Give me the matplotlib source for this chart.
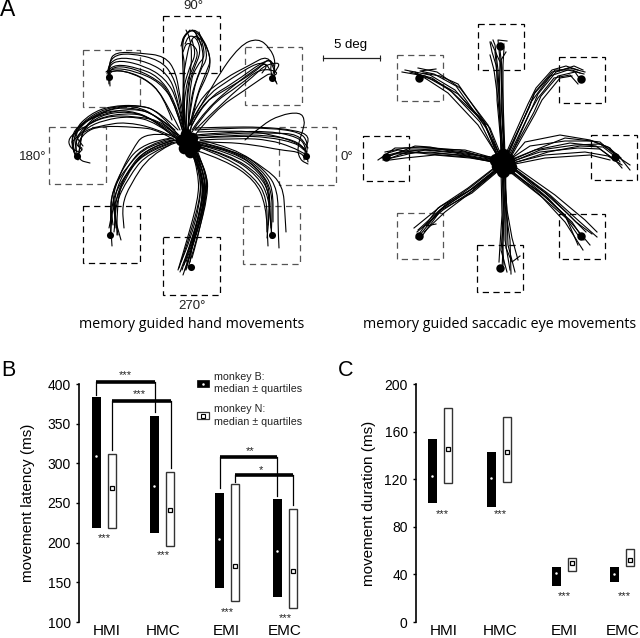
import matplotlib
matplotlib.use('Agg')
import matplotlib.pyplot as plt
from matplotlib.path import Path
from matplotlib.patches import PathPatch, Rectangle

plt.rcParams['font.family'] = ['Liberation Sans', 'DejaVu Sans']

W, H = 640, 638
GREY = '#555555'

# panel A, everything in pixels
hand_boxes = [(163, 16, 220, 73), (245, 47, 302, 105), (83, 50, 140, 107), (49, 127, 106, 184),
              (279, 127, 336, 185), (83, 206, 140, 263), (243, 206, 300, 264), (163, 237, 220, 295)]
hand_box_colors = ['k', GREY, GREY, GREY, GREY, 'k', GREY, 'k']
eye_boxes = [(478, 24, 524, 70), (559, 57, 605, 103), (397, 55, 443, 101), (363, 136, 409, 181),
             (591, 135, 637, 180), (397, 213, 443, 259), (559, 214, 605, 259), (477, 245, 523, 292)]
eye_box_colors = ['k', 'k', GREY, 'k', 'k', GREY, 'k', 'k']
hand_targets = [(272, 78), (109, 77), (77, 156), (306, 156), (110, 235), (272, 235), (191, 267)]
eye_targets = [(500, 46), (581, 79), (419, 78), (386, 157), (615, 157), (419, 236), (581, 236), (500, 268)]
hand_center = [(188, 143), (184, 148), (192, 138), (186, 134), (190, 152), (181, 140), (195, 146)]
eye_center = [(503, 163), (498, 166), (508, 160), (503, 171), (503, 155), (510, 167), (496, 160)]

hand_090 = [
    [(186, 140), (184, 100), (183, 70), (182, 45), (186, 32), (195, 30), (198, 40)],
    [(189, 140), (195, 100), (205, 80), (211, 65), (208, 48), (200, 35), (192, 30)],
    [(188, 130), (190, 100), (198, 75), (204, 60), (201, 42), (195, 32)],
    [(186, 130), (186, 100), (190, 75), (192, 55), (190, 38), (186, 30)],
    [(185, 125), (183, 95), (185, 65), (182, 50), (182, 38), (190, 30)],
    [(190, 125), (195, 100), (207, 70), (211, 60), (205, 42), (196, 36)],
    [(184, 130), (181, 100), (188, 70), (196, 55), (192, 40)],
    [(187, 135), (192, 95), (200, 70), (208, 58), (203, 38), (194, 28), (184, 36), (181, 46)],
    [(183, 120), (185, 85), (194, 66), (199, 50), (187, 41), (183, 52)],
    [(186, 135), (187, 90), (194, 68), (201, 52), (197, 38), (189, 35), (185, 44)],
    [(188, 135), (189, 85), (197, 65), (206, 56), (199, 32)],
    [(184, 135), (182, 85), (186, 60), (190, 42), (196, 34), (202, 46)],
]
hand_045 = [
    [(190, 125), (215, 80), (240, 45), (258, 38), (270, 48), (276, 62), (272, 78)],
    [(192, 130), (205, 110), (240, 80), (262, 65), (270, 58), (276, 70), (272, 80)],
    [(195, 130), (225, 100), (255, 75), (265, 65), (281, 62), (275, 72)],
    [(192, 125), (205, 100), (235, 82), (262, 62), (272, 60), (270, 72), (276, 82)],
    [(190, 130), (200, 105), (225, 90), (255, 72), (265, 62), (270, 70)],
    [(188, 128), (197, 100), (225, 78), (250, 65), (268, 55), (275, 72)],
    [(195, 135), (215, 110), (245, 90), (262, 78), (272, 72), (277, 84)],
    [(192, 132), (210, 105), (240, 85), (260, 68), (280, 72), (270, 78)],
    [(189, 126), (203, 98), (232, 78), (258, 62), (268, 65), (262, 73)],
]
hand_135 = [
    [(186, 140), (180, 100), (173, 75), (160, 60), (130, 53), (112, 56), (108, 70), (109, 80)],
    [(186, 140), (178, 100), (165, 78), (145, 66), (120, 60), (109, 65), (109, 78)],
    [(185, 140), (176, 105), (160, 82), (135, 71), (115, 68), (108, 72), (109, 84)],
    [(184, 135), (172, 92), (150, 75), (125, 66), (110, 68), (107, 80)],
    [(180, 130), (170, 110), (155, 85), (130, 72), (112, 70), (109, 76)],
    [(188, 140), (180, 98), (176, 72), (165, 56), (140, 53), (115, 52), (109, 62), (110, 86)],
    [(172, 120), (163, 95), (145, 78), (122, 70), (108, 72)],
    [(185, 132), (177, 96), (168, 74), (148, 62), (122, 57), (110, 62), (107, 74)],
    [(183, 128), (174, 98), (158, 76), (138, 68), (116, 64), (106, 72)],
]
hand_180 = [
    [(180, 140), (160, 118), (135, 105), (105, 108), (82, 122), (70, 140), (76, 158)],
    [(180, 142), (155, 120), (130, 110), (100, 112), (78, 128), (72, 145), (78, 160)],
    [(178, 138), (150, 116), (125, 113), (98, 118), (78, 132), (75, 150), (80, 158)],
    [(182, 140), (165, 122), (135, 116), (105, 116), (82, 128), (68, 138), (70, 148), (79, 152)],
    [(176, 138), (155, 128), (125, 122), (105, 125), (85, 130), (74, 142), (82, 150)],
    [(182, 145), (160, 130), (135, 127), (100, 126), (85, 132), (76, 146), (84, 148), (76, 156)],
    [(178, 135), (160, 112), (140, 105), (110, 106), (90, 114), (74, 130), (76, 150)],
    [(175, 130), (155, 114), (130, 107), (105, 110), (84, 126), (80, 145), (78, 160), (90, 163)],
    [(180, 136), (158, 115), (132, 108), (102, 114), (80, 124), (71, 136), (74, 152)],
    [(176, 134), (152, 118), (128, 111), (100, 115), (82, 130), (79, 152)],
    [(179, 140), (156, 122), (130, 116), (104, 120), (86, 128), (72, 142)],
    [(178, 130), (158, 110), (136, 105), (108, 109), (86, 120), (74, 134), (83, 146)],
]
hand_000 = [
    [(195, 130), (230, 128), (270, 128), (300, 132), (308, 142), (306, 158)],
    [(195, 135), (230, 132), (270, 131), (298, 137), (306, 146), (304, 160)],
    [(194, 138), (235, 135), (265, 135), (295, 140), (306, 150), (308, 162)],
    [(198, 132), (240, 130), (275, 135), (300, 144), (307, 152)],
    [(200, 140), (240, 138), (270, 140), (292, 147), (305, 154)],
    [(195, 128), (225, 127), (262, 127), (295, 130), (310, 136), (305, 150)],
    [(245, 140), (262, 125), (280, 115), (300, 112), (305, 120), (303, 130), (297, 148), (300, 160), (308, 164)],
    [(196, 142), (225, 142), (255, 145), (280, 150), (300, 152), (305, 158)],
    [(197, 136), (236, 133), (272, 133), (298, 134), (308, 148)],
    [(198, 138), (238, 136), (268, 137), (296, 143), (304, 150)],
]
hand_225 = [
    [(175, 140), (145, 148), (125, 175), (112, 200), (112, 220), (110, 235)],
    [(172, 138), (142, 142), (120, 172), (110, 200), (113, 225)],
    [(178, 142), (148, 152), (128, 178), (115, 205), (116, 228)],
    [(170, 135), (145, 132), (132, 150), (118, 178), (112, 200), (118, 235)],
    [(175, 142), (150, 150), (130, 168), (118, 190), (114, 215), (121, 240)],
    [(172, 140), (148, 145), (128, 165), (112, 190), (110, 215), (112, 246)],
    [(170, 145), (150, 155), (130, 185), (122, 205), (124, 228)],
    [(174, 138), (146, 144), (126, 168), (114, 195), (115, 222), (114, 232)],
    [(176, 140), (150, 146), (132, 166), (120, 186), (117, 212), (117, 235)],
    [(173, 142), (144, 150), (124, 180), (113, 208), (109, 228)],
]
hand_315 = [
    [(195, 145), (230, 155), (260, 175), (270, 195), (270, 220), (272, 235)],
    [(197, 142), (232, 150), (258, 168), (271, 190), (268, 225)],
    [(198, 147), (228, 158), (255, 178), (267, 198), (267, 232)],
    [(200, 140), (235, 148), (265, 170), (278, 190), (278, 225), (279, 248)],
    [(195, 150), (225, 160), (255, 180), (266, 205), (268, 246)],
    [(198, 145), (235, 150), (265, 168), (283, 185), (285, 215), (286, 232)],
    [(200, 144), (235, 152), (262, 172), (272, 192), (272, 218), (271, 238)],
    [(196, 144), (232, 153), (260, 172), (269, 192), (269, 218), (267, 238)],
    [(199, 142), (236, 150), (263, 171), (273, 188), (273, 222)],
    [(197, 146), (230, 156), (258, 176), (269, 198), (271, 228)],
]
hand_270 = [
    [(193, 150), (204, 170), (205, 195), (196, 235), (185, 270)],
    [(195, 150), (207, 172), (208, 195), (198, 235), (188, 268)],
    [(192, 152), (202, 172), (203, 198), (192, 240), (180, 272)],
    [(196, 152), (205, 175), (206, 200), (195, 240), (183, 275)],
    [(190, 150), (200, 170), (201, 195), (190, 235), (179, 268)],
    [(194, 148), (206, 168), (207, 192), (194, 238), (186, 262)],
    [(193, 155), (203, 175), (204, 198), (194, 232), (190, 262)],
    [(197, 150), (208, 178), (205, 205), (197, 240), (192, 258)],
    [(195, 155), (204, 180), (202, 205), (191, 245), (184, 265)],
    [(194, 152), (201, 178), (200, 204), (190, 240), (181, 262)],
    [(196, 150), (206, 180), (204, 208), (193, 242), (187, 266)],
    [(192, 150), (199, 175), (198, 200), (187, 240), (178, 270)],
    [(195, 150), (203, 180), (201, 210), (189, 248), (182, 270)],
    [(197, 155), (205, 185), (203, 212), (192, 246), (186, 270)],
]

eye_090 = [
    [(503, 160), (500, 110), (498, 70), (495, 45), (493, 40)],
    [(505, 160), (502, 110), (501, 70), (498, 40), (507, 41)],
    [(501, 160), (500, 105), (496, 65), (492, 52), (490, 42)],
    [(504, 160), (503, 105), (503, 65), (504, 48)],
    [(502, 160), (499, 105), (500, 62), (491, 42)],
    [(503, 150), (498, 100), (494, 70), (490, 55)],
    [(504, 155), (501, 100), (502, 68), (500, 50), (504, 44)],
    [(502, 155), (497, 100), (497, 72), (495, 52)],
    [(505, 155), (503, 100), (501, 60), (506, 52)],
]
eye_045 = [
    [(505, 160), (530, 105), (535, 92), (552, 72), (570, 68), (585, 72)],
    [(506, 162), (532, 108), (538, 94), (556, 72), (574, 66), (583, 70)],
    [(508, 160), (534, 112), (541, 96), (558, 76), (575, 72), (582, 82)],
    [(504, 158), (528, 104), (536, 88), (552, 70), (566, 66), (578, 70)],
    [(507, 164), (535, 114), (542, 100), (560, 78), (572, 76)],
    [(505, 158), (529, 108), (534, 94), (550, 76), (568, 70), (584, 74)],
    [(506, 160), (531, 102), (540, 90), (555, 70), (572, 70), (580, 73)],
    [(508, 162), (530, 112), (538, 98), (554, 78), (570, 75), (578, 84)],
]
eye_135 = [
    [(500, 160), (485, 125), (455, 90), (430, 75), (405, 70)],
    [(498, 158), (480, 122), (450, 90), (425, 76), (402, 72)],
    [(502, 162), (488, 125), (460, 88), (437, 72), (418, 68)],
    [(497, 155), (478, 125), (448, 93), (428, 80), (415, 72)],
    [(500, 156), (483, 120), (458, 84), (440, 76), (423, 73)],
    [(503, 160), (490, 128), (458, 94), (434, 80), (418, 75)],
    [(499, 160), (484, 122), (452, 92), (432, 78), (410, 72)],
    [(501, 158), (486, 128), (456, 86), (434, 74), (420, 71), (436, 69)],
]
eye_180 = [
    [(495, 160), (465, 152), (430, 148), (395, 148), (378, 160)],
    [(495, 162), (465, 156), (430, 152), (395, 154), (382, 158)],
    [(495, 160), (460, 150), (420, 147), (405, 148), (385, 152)],
    [(497, 158), (465, 154), (430, 147), (415, 146), (390, 156)],
    [(495, 162), (470, 158), (435, 155), (405, 158), (390, 160)],
    [(495, 158), (465, 153), (430, 150), (410, 150), (397, 153)],
    [(490, 157), (465, 150), (430, 149), (410, 151), (385, 160)],
    [(495, 161), (462, 155), (432, 153), (400, 152), (384, 156)],
    [(497, 163), (468, 157), (428, 154), (398, 150), (388, 153)],
    [(494, 160), (455, 153), (425, 150), (400, 156), (383, 160)],
]
eye_000 = [
    [(510, 160), (540, 148), (565, 138), (600, 142), (615, 155), (630, 165)],
    [(512, 162), (540, 150), (575, 145), (600, 144), (618, 155), (630, 170)],
    [(510, 160), (525, 142), (560, 135), (590, 140), (610, 148), (620, 162)],
    [(512, 163), (545, 155), (585, 152), (608, 156), (622, 165)],
    [(510, 165), (545, 158), (590, 155), (610, 160)],
    [(510, 161), (535, 150), (570, 143), (596, 146), (612, 158)],
    [(512, 158), (530, 146), (565, 141), (592, 141), (608, 147), (621, 158)],
    [(513, 161), (540, 152), (578, 148), (600, 149), (615, 160), (622, 168)],
    [(514, 163), (548, 152), (580, 146), (603, 147), (617, 158)],
]
eye_225 = [
    [(495, 170), (470, 190), (440, 210), (420, 235)],
    [(497, 170), (472, 191), (443, 210), (417, 232)],
    [(494, 168), (468, 188), (438, 208), (416, 238)],
    [(496, 172), (470, 193), (445, 212), (424, 232)],
    [(498, 169), (474, 188), (441, 206), (414, 228)],
    [(493, 172), (469, 191), (442, 208), (418, 230)],
    [(495, 168), (471, 187), (444, 206), (422, 236)],
    [(497, 172), (472, 193), (439, 211), (426, 226), (436, 224)],
]
eye_315 = [
    [(510, 165), (550, 195), (580, 222), (597, 237)],
    [(508, 168), (545, 197), (572, 222), (584, 240)],
    [(510, 170), (540, 195), (565, 222), (583, 250)],
    [(511, 164), (555, 195), (585, 220), (597, 232)],
    [(512, 168), (548, 198), (574, 226), (590, 245)],
    [(508, 170), (540, 192), (565, 215), (578, 245)],
    [(511, 166), (552, 198), (576, 222), (592, 234)],
    [(509, 166), (544, 192), (568, 214), (586, 232)],
    [(510, 172), (543, 198), (566, 218), (580, 238)],
]
eye_270 = [
    [(503, 170), (505, 210), (505, 240), (510, 270)],
    [(505, 170), (507, 215), (508, 245), (515, 272)],
    [(501, 170), (502, 215), (500, 245), (499, 262)],
    [(506, 170), (505, 205), (510, 240), (511, 274)],
    [(502, 172), (504, 215), (503, 248), (502, 270)],
    [(504, 168), (507, 210), (512, 238), (518, 260)],
    [(503, 170), (503, 210), (502, 240), (504, 265)],
    [(505, 172), (506, 212), (506, 248), (512, 262), (520, 256)],
    [(504, 172), (504, 218), (501, 250), (507, 272)],
]

hand_traces = hand_090 + hand_045 + hand_135 + hand_180 + hand_000 + hand_225 + hand_315 + hand_270
eye_traces = eye_090 + eye_045 + eye_135 + eye_180 + eye_000 + eye_225 + eye_315 + eye_270

# panels B and C
categories = ['HMI', 'HMC', 'EMI', 'EMC']
lat_b_top = [384, 360, 263, 255]
lat_b_bot = [218, 212, 143, 131]
lat_b_med = [309, 271, 204, 189]
lat_n_top = [312, 289, 274, 242]
lat_n_bot = [219, 196, 126, 118]
lat_n_med = [269, 241, 171, 164]
dur_b_top = [154, 143, 46, 46]
dur_b_bot = [100, 97, 30, 34]
dur_b_med = [123, 121, 41, 40]
dur_n_top = [180, 172, 54, 61]
dur_n_bot = [117, 118, 43, 47]
dur_n_med = [145, 143, 50, 52]

lat_ticks = [100, 150, 200, 250, 300, 350, 400]
dur_ticks = [0, 40, 80, 120, 160, 200]


def px_axes(x0, x1, y_top, y_bot):
    return plt.gcf().add_axes([x0 / W, 1 - y_bot / H, (x1 - x0) / W, (y_bot - y_top) / H])


def curve(ax, pts, lw=0.8):
    verts = [pts[0]]
    codes = [Path.MOVETO]
    for i in range(1, len(pts) - 1):
        verts += [pts[i], ((pts[i][0] + pts[i + 1][0]) / 2, (pts[i][1] + pts[i + 1][1]) / 2)]
        codes += [Path.CURVE3, Path.CURVE3]
    verts.append(pts[-1])
    codes.append(Path.LINETO)
    ax.add_patch(PathPatch(Path(verts, codes), fc='none', ec='k', lw=lw, capstyle='round'))


def range_bars(ax, xs, b_top, b_bot, b_med, n_top, n_bot, n_med):
    for x, t, b, m in zip(xs, b_top, b_bot, b_med):
        ax.bar(x, t - b, bottom=b, width=9, color='k', clip_on=False)
        ax.plot(x, m, 'o', ms=1.8, color='w', mew=0)
    for x, t, b, m in zip(xs, n_top, n_bot, n_med):
        ax.bar(x + 16, t - b, bottom=b, width=8, fc='w', ec='#333333', lw=1, clip_on=False)
        ax.plot(x + 16, m, 's', ms=3, mfc='w', mec='k', mew=0.9)


def bracket(ax, x0, x1, y, left_end, right_end):
    ax.plot([x0, x0], [y, left_end], color='k', lw=0.9, clip_on=False)
    ax.plot([x1, x1], [y, right_end], color='k', lw=0.9, clip_on=False)
    ax.plot([x0, x1], [y, y], color='k', lw=2.6, clip_on=False, solid_capstyle='butt')


def stars(ax, x, y, s):
    ax.text(x, y, s, ha='center', va='center', fontsize=8, color='#222222')


def style(ax, xlim, ylim, ticks, ylabel, label_x, ylabel_x):
    ax.set_xlim(*xlim)
    ax.set_ylim(*ylim)
    ax.set_yticks(ticks)
    ax.set_xticks(label_x)
    ax.set_xticklabels(categories, fontsize=11)
    ax.tick_params(axis='x', length=0, pad=1.5)
    ax.tick_params(axis='y', length=2, width=1, pad=4, labelsize=10)
    for s in ['top', 'right', 'bottom']:
        ax.spines[s].set_visible(False)
    ax.spines['left'].set_linewidth(1.2)
    ax.patch.set_alpha(0)
    ax.set_ylabel(ylabel, fontsize=11)
    ax.yaxis.set_label_coords(ylabel_x, 0.5)


fig = plt.figure(figsize=(W / 100, H / 100), dpi=100)

# panel A
top = fig.add_axes([0, 0, 1, 1])
top.set_xlim(0, W)
top.set_ylim(H, 0)
top.axis('off')

for boxes, colors in [(hand_boxes, hand_box_colors), (eye_boxes, eye_box_colors)]:
    for (x0, y0, x1, y1), c in zip(boxes, colors):
        top.add_patch(Rectangle((x0, y0), x1 - x0, y1 - y0, fc='none', ec=c, lw=0.9, ls=(0, (5, 3.5))))

for t in hand_traces:
    curve(top, t)
for t in eye_traces:
    top.plot(*zip(*t), color='k', lw=0.8)

top.scatter(*zip(*hand_targets), s=26, color='k', lw=0)
top.scatter(*zip(*eye_targets), s=37, color='k', lw=0)
top.scatter(*zip(*hand_center), s=70, color='k', lw=0)
top.scatter(*zip(*eye_center), s=95, color='k', lw=0)

top.plot([323, 380], [58, 58], color='#222222', lw=0.9, marker='|', ms=4, mew=0.8)
top.text(351, 45, '5 deg', ha='center', va='center', fontsize=9.5)
top.text(193, 6, '90°', ha='center', va='center', fontsize=9.5, color='#222222')
top.text(192, 306, '270°', ha='center', va='center', fontsize=9.5, color='#222222')
top.text(33, 157, '180°', ha='center', va='center', fontsize=9.5, color='#222222')
top.text(347, 157, '0°', ha='center', va='center', fontsize=9.5, color='#222222')
top.text(192, 324, 'memory guided hand movements', ha='center', va='center', fontsize=10.3, family='Open Sans')
top.text(500, 324, 'memory guided saccadic eye movements', ha='center', va='center', fontsize=10.3, family='Open Sans')
top.text(0, 10, 'A', ha='left', va='center', fontsize=16.5)
top.text(1, 370, 'B', ha='left', va='center', fontsize=15.5)
top.text(338, 371, 'C', ha='left', va='center', fontsize=15.5)

# panel B
ax = px_axes(79, 330, 384, 622)
xs = [96, 154, 219, 277]
range_bars(ax, xs, lat_b_top, lat_b_bot, lat_b_med, lat_n_top, lat_n_bot, lat_n_med)
style(ax, (79, 330), (100, 400), lat_ticks, 'movement latency (ms)', [107, 163, 226, 285], -0.177)
bracket(ax, 96, 155, 402.5, 386, 365)
bracket(ax, 112, 171, 379, 317, 294)
bracket(ax, 219.5, 277, 308, 269, 259)
bracket(ax, 235, 293, 285, 276, 247)
for x, y, s in [(125, 411, '***'), (139, 387, '***'), (250, 316, '**'), (261, 292, '*'),
                (104, 206, '***'), (163, 184, '***'), (227, 112, '***'), (285, 105, '***')]:
    stars(ax, x, y, s)

# legend of panel B is drawn by hand on the overlay axes
top.add_patch(Rectangle((197, 380), 12, 7, fc='k', ec='k', lw=0.5))
top.plot(203, 383.5, 'o', ms=1.8, color='w', mew=0)
top.add_patch(Rectangle((197, 412), 12, 7, fc='w', ec='#333333', lw=0.9))
top.plot(203, 415.5, 's', ms=3, mfc='w', mec='k', mew=0.8)
for y, s in [(377, 'monkey B:'), (389, 'median ± quartiles'), (409, 'monkey N:'), (422, 'median ± quartiles')]:
    top.text(214, y, s, ha='left', va='center', fontsize=7.7, color='#222222')

# panel C
ax2 = px_axes(416, 640, 384, 622)
xs2 = [432, 491, 556, 614]
range_bars(ax2, xs2, dur_b_top, dur_b_bot, dur_b_med, dur_n_top, dur_n_bot, dur_n_med)
style(ax2, (416, 640), (0, 200), dur_ticks, 'movement duration (ms)', [444, 500, 564, 623], -0.177)
for x, y in [(442, 91), (500, 91), (564, 22), (624, 22)]:
    stars(ax2, x, y, '***')

fig.savefig('out.png', dpi=100)
